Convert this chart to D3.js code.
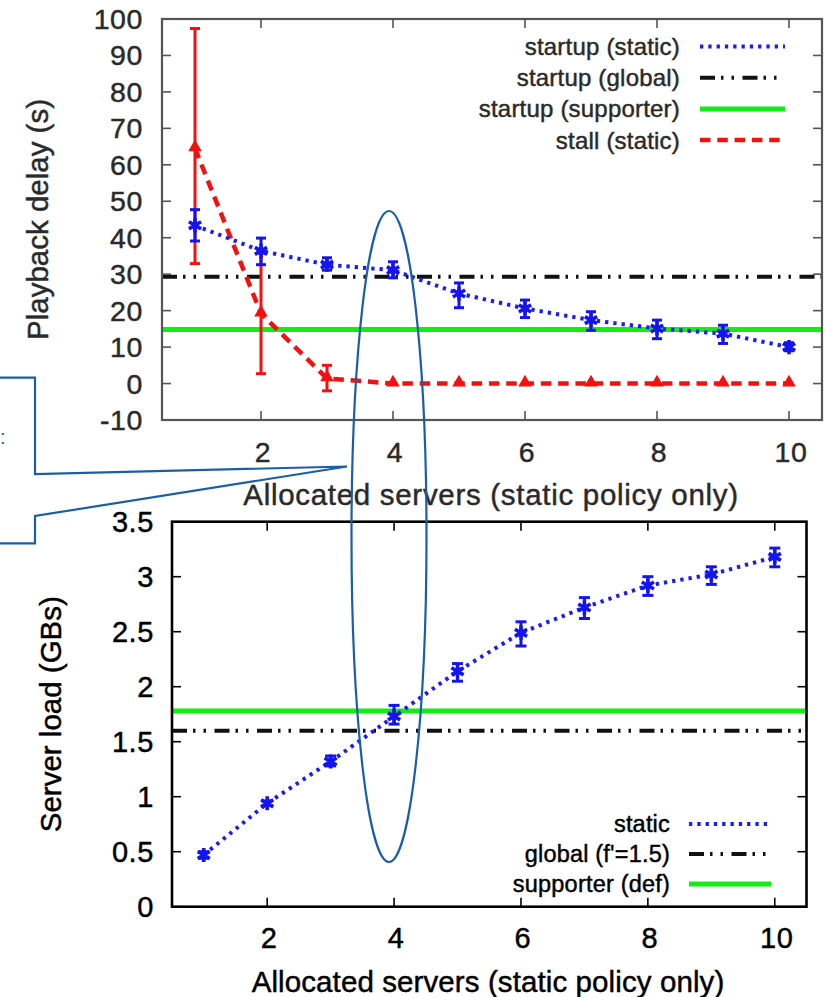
<!DOCTYPE html>
<html>
<head>
<meta charset="utf-8">
<script src="https://cdn.jsdelivr.net/npm/d3@7"></script>
<style>
    body { margin: 0; background: #fff; }
    svg { display: block; font-family: "Liberation Sans", Arial, sans-serif; }
</style>
</head>
<body>
<svg id="chart" width="825" height="997"></svg>
<script>
"use strict";

// --- data ---
const servers = [1, 2, 3, 4, 5, 6, 7, 8, 9, 10];
const xTicks = [2, 4, 6, 8, 10];

// top panel: playback delay (s)
const startupStatic   = [43.4, 36.4, 32.6, 31.1, 24.7, 20.6, 17.4, 15.1, 13.7, 10.0];
const startupStaticLo = [39.1, 32.6, 31.1, 29.0, 20.8, 18.1, 14.6, 12.3, 11.0, 9.0];
const startupStaticHi = [47.7, 39.9, 34.5, 33.4, 27.6, 22.9, 19.7, 17.4, 16.0, 11.2];
const stallStatic     = [64.5, 19.2, 1.4, 0, 0, 0, 0, 0, 0, 0];
const stallStaticLo   = [32.9, 2.7, -2.0, 0, 0, 0, 0, 0, 0, 0];
const stallStaticHi   = [97.4, 35.8, 5.0, 0, 0, 0, 0, 0, 0, 0];
const startupGlobal = 29.3;
const startupSupporter = 14.8;
const delayTicks = [-10, 0, 10, 20, 30, 40, 50, 60, 70, 80, 90, 100];
const delayLegend = ["startup (static)", "startup (global)", "startup (supporter)", "stall (static)"];

// bottom panel: server load (GBs)
const loadStatic   = [0.47, 0.94, 1.32, 1.73, 2.14, 2.49, 2.72, 2.92, 3.02, 3.18];
const loadStaticLo = [0.44, 0.92, 1.28, 1.66, 2.05, 2.37, 2.62, 2.83, 2.93, 3.09];
const loadStaticHi = [0.50, 0.96, 1.37, 1.83, 2.21, 2.59, 2.81, 3.00, 3.09, 3.26];
const loadGlobal = 1.60;
const loadSupporter = 1.78;
const loadTicks = [0, 0.5, 1, 1.5, 2, 2.5, 3, 3.5];
const loadLegend = ["static", "global (f'=1.5)", "supporter (def)"];

const xLabel = "Allocated servers (static policy only)";

// line styles (gnuplot look)
const STYLE = {
    dotted:  {stroke: "#1c1cf5", width: 4, dash: "3.3,5", cap: "butt"},
    dashdot: {stroke: "#111", width: 4, dash: "15,6,2.5,8,2.5,8.5", cap: "butt"},
    solid:   {stroke: "#12ee12", width: 5, dash: null, cap: "butt"},
    dashed:  {stroke: "#f51010", width: 4.5, dash: "10.5,6.8", cap: "butt"}
};
const MARK_BLUE = "#1414f0";

const svg = d3.select("#chart");

function styled(sel, st)
{
    sel.attr("fill", "none")
       .attr("stroke", st.stroke)
       .attr("stroke-width", st.width)
       .attr("stroke-linecap", st.cap);
    if (st.dash)
        sel.attr("stroke-dasharray", st.dash);
    return sel;
}

// slightly heavier text, like the blurry original
function inked(sel, color)
{
    return sel.attr("fill", color).attr("stroke", color).attr("stroke-width", 0.45);
}

/**
 * Draws frame, mirrored ticks and tick labels of one panel
 */
function drawFrame(g, x, y, yTicks, opt)
{
    let [x0, x1] = x.range();
    let [y0, y1] = y.range();
    let tl = 9;

    let ticks = g.append("g").attr("stroke", opt.frame).attr("stroke-width", 1.6);
    xTicks.forEach((t) =>
    {
        ticks.append("line").attr("x1", x(t)).attr("x2", x(t)).attr("y1", y0).attr("y2", y0 - tl);
        ticks.append("line").attr("x1", x(t)).attr("x2", x(t)).attr("y1", y1).attr("y2", y1 + tl);
    });
    yTicks.forEach((t) =>
    {
        ticks.append("line").attr("x1", x0).attr("x2", x0 + tl).attr("y1", y(t)).attr("y2", y(t));
        ticks.append("line").attr("x1", x1).attr("x2", x1 - tl).attr("y1", y(t)).attr("y2", y(t));
    });

    g.append("rect")
     .attr("x", x0).attr("y", y1)
     .attr("width", x1 - x0).attr("height", y0 - y1)
     .attr("fill", "none")
     .attr("stroke", opt.frame)
     .attr("stroke-width", opt.frameWidth);

    let txt = inked(g.append("g"), opt.text).attr("font-size", opt.tickSize).attr("letter-spacing", 0.6);
    yTicks.forEach((t) =>
    {
        txt.append("text")
           .attr("x", opt.yLabelRight).attr("y", y(t))
           .attr("text-anchor", "end").attr("dominant-baseline", "central")
           .text(String(t));
    });
    xTicks.forEach((t) =>
    {
        txt.append("text")
           .attr("x", x(t) + 2).attr("y", opt.xTickY)
           .attr("text-anchor", "middle").attr("dominant-baseline", "central")
           .text(String(t));
    });

    inked(g.append("text"), opt.text)
     .attr("font-size", opt.labelSize)
     .attr("text-anchor", "middle").attr("dominant-baseline", "central")
     .attr("transform", "translate(" + opt.yLabelX + "," + ((y0 + y1) / 2 + opt.yLabelShift) + ") rotate(-90)")
     .text(opt.yLabel);

    inked(g.append("text"), opt.text)
     .attr("font-size", opt.labelSize)
     .attr("letter-spacing", opt.xLabelSpacing)
     .attr("text-anchor", "middle").attr("dominant-baseline", "central")
     .attr("x", opt.xLabelX).attr("y", opt.xLabelY)
     .text(xLabel);
}

function drawErrorBars(g, x, y, lo, hi, color, capW)
{
    let eb = g.append("g").attr("stroke", color).attr("stroke-width", 3).attr("fill", "none");
    servers.forEach((s, i) =>
    {
        if (lo[i] === hi[i])
            return;
        eb.append("line").attr("x1", x(s)).attr("x2", x(s)).attr("y1", y(lo[i])).attr("y2", y(hi[i]));
        eb.append("line").attr("x1", x(s) - capW).attr("x2", x(s) + capW).attr("y1", y(lo[i])).attr("y2", y(lo[i]));
        eb.append("line").attr("x1", x(s) - capW).attr("x2", x(s) + capW).attr("y1", y(hi[i])).attr("y2", y(hi[i]));
    });
}

function drawStars(g, x, y, vals, color)
{
    g.append("g").selectAll("path").data(vals).join("path")
     .attr("transform", (d, i) => "translate(" + x(servers[i]) + "," + y(d) + ")")
     .attr("d", d3.symbol(d3.symbolAsterisk, 140))
     .attr("fill", "none").attr("stroke", color).attr("stroke-width", 3.6);
}

function drawLegend(g, names, styles, opt)
{
    names.forEach((n, i) =>
    {
        let yy = opt.y0 + i * opt.step;
        inked(g.append("text"), opt.text)
         .attr("x", opt.textRight).attr("y", yy)
         .attr("text-anchor", "end").attr("dominant-baseline", "central")
         .attr("font-size", opt.size)
         .attr("letter-spacing", 0.2)
         .text(n);
        styled(g.append("line"), styles[i])
         .attr("x1", opt.lineX0).attr("x2", opt.lineX1)
         .attr("y1", yy).attr("y2", yy);
    });
}

// ---------------- top panel ----------------
{
    let g = svg.append("g");
    let x = d3.scaleLinear().domain([0.5, 10.5]).range([162, 822]);
    let y = d3.scaleLinear().domain([-10, 100]).range([420, 19]);

    let line = d3.line().x((d, i) => x(servers[i])).y((d) => y(d));
    let hl = d3.line().x((d) => x(d[0])).y((d) => y(d[1]));

    styled(g.append("path").attr("d", hl([[0.5, startupGlobal], [10.5, startupGlobal]])), STYLE.dashdot);
    styled(g.append("path").attr("d", hl([[0.5, startupSupporter], [10.5, startupSupporter]])), STYLE.solid);

    drawErrorBars(g, x, y, stallStaticLo, stallStaticHi, STYLE.dashed.stroke, 5);
    styled(g.append("path").attr("d", line(stallStatic)), STYLE.dashed);
    g.append("g").selectAll("path").data(stallStatic).join("path")
     .attr("transform", (d, i) => "translate(" + x(servers[i]) + "," + (y(d) - 1) + ")")
     .attr("d", d3.symbol(d3.symbolTriangle, 80))
     .attr("fill", STYLE.dashed.stroke);

    styled(g.append("path").attr("d", line(startupStatic)), STYLE.dotted);
    drawErrorBars(g, x, y, startupStaticLo, startupStaticHi, MARK_BLUE, 5);
    drawStars(g, x, y, startupStatic, MARK_BLUE);

    drawFrame(g, x, y, delayTicks, {
        frame: "#555", frameWidth: 2.2, text: "#2a2a2a",
        tickSize: 28.5, labelSize: 29.5,
        yLabelRight: 143, xTickY: 452,
        yLabelX: 37, yLabelShift: 0,
        yLabel: "Playback delay (s)",
        xLabelX: 491, xLabelY: 494, xLabelSpacing: 0.7
    });

    drawLegend(g, delayLegend, [STYLE.dotted, STYLE.dashdot, STYLE.solid, STYLE.dashed], {
        y0: 46.5, step: 31.2, textRight: 680, lineX0: 700, lineX1: 785,
        size: 24, text: "#2a2a2a"
    });
}

// ---------------- bottom panel ----------------
{
    let g = svg.append("g");
    let x = d3.scaleLinear().domain([0.5, 10.5]).range([172, 806.5]);
    let y = d3.scaleLinear().domain([0, 3.5]).range([906.7, 521.7]);

    let line = d3.line().x((d, i) => x(servers[i])).y((d) => y(d));
    let hl = d3.line().x((d) => x(d[0])).y((d) => y(d[1]));

    styled(g.append("path").attr("d", hl([[0.5, loadGlobal], [10.5, loadGlobal]])), STYLE.dashdot);
    styled(g.append("path").attr("d", hl([[0.5, loadSupporter], [10.5, loadSupporter]])), STYLE.solid);

    styled(g.append("path").attr("d", line(loadStatic)), STYLE.dotted);
    drawErrorBars(g, x, y, loadStaticLo, loadStaticHi, MARK_BLUE, 5.5);
    drawStars(g, x, y, loadStatic, MARK_BLUE);

    drawFrame(g, x, y, loadTicks, {
        frame: "#000", frameWidth: 2.6, text: "#000",
        tickSize: 29, labelSize: 29.5,
        yLabelRight: 154, xTickY: 938,
        yLabelX: 50, yLabelShift: 0,
        yLabel: "Server load (GBs)",
        xLabelX: 488, xLabelY: 981, xLabelSpacing: 0.1
    });

    drawLegend(g, loadLegend, [STYLE.dotted, STYLE.dashdot, STYLE.solid], {
        y0: 824, step: 30, textRight: 670, lineX0: 689, lineX1: 771,
        size: 23.5, text: "#000"
    });
}

// ---------------- callout overlay ----------------
{
    let blue = "#1a5fa6";
    let callout = [[0, 377.7], [35, 377.7], [35, 474], [347, 466.5], [35, 516], [35, 543.3], [0, 543.3]];
    svg.append("path")
       .attr("d", d3.line()(callout))
       .attr("fill", "none").attr("stroke", blue).attr("stroke-width", 2.2);
    svg.append("text")
       .attr("x", 0).attr("y", 437).attr("dominant-baseline", "central")
       .attr("font-size", 20).attr("fill", blue)
       .text(":");
    svg.append("ellipse")
       .attr("cx", 389).attr("cy", 536.5).attr("rx", 37.5).attr("ry", 325.5)
       .attr("fill", "none").attr("stroke", blue).attr("stroke-width", 2.2);
}
</script>
</body>
</html>
